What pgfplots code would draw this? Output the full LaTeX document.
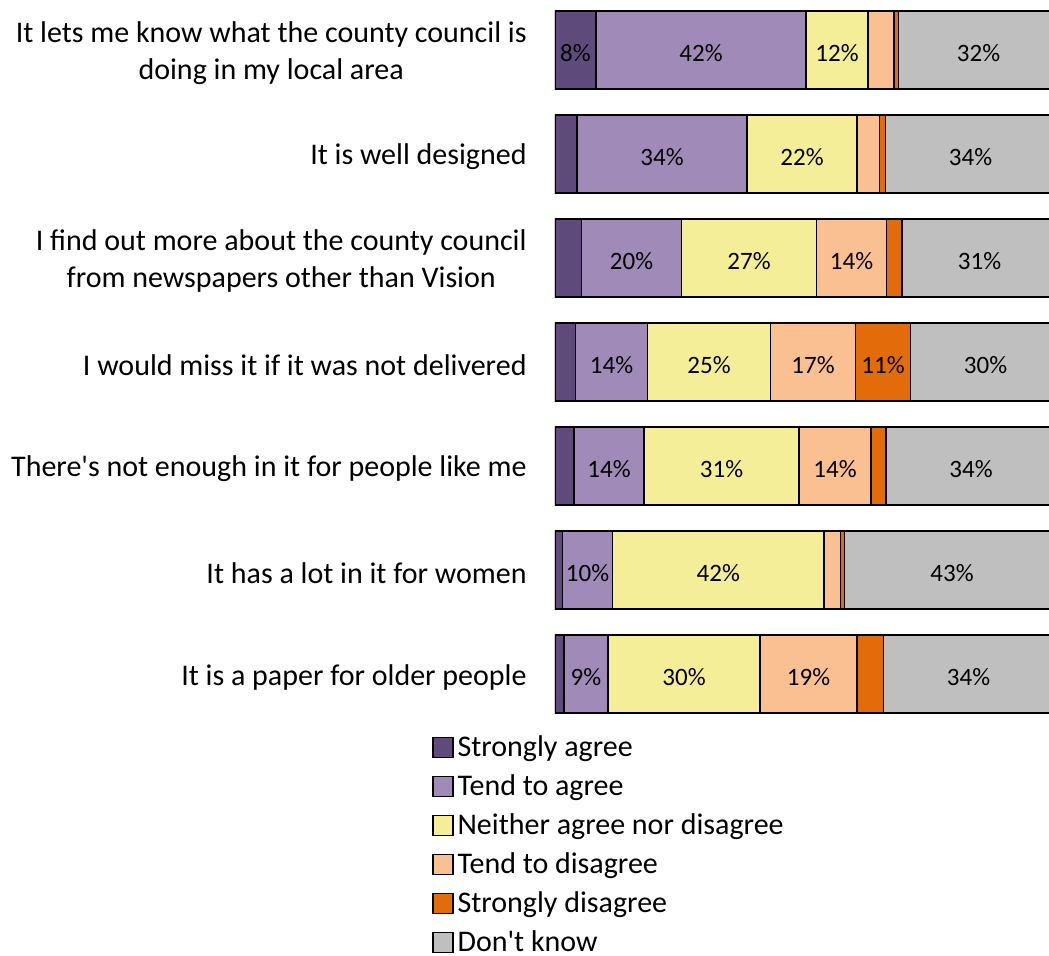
\documentclass[border=0pt]{standalone}
\usepackage{fontspec}
\setmainfont{Carlito}
\usepackage{pgfplots}
\usepackage{pgfplotstable}
\pgfplotsset{compat=1.18}
\definecolor{cSA}{RGB}{95,75,123}
\definecolor{cTA}{RGB}{160,138,184}
\definecolor{cN}{RGB}{244,238,152}
\definecolor{cTD}{RGB}{250,192,146}
\definecolor{cSD}{RGB}{227,108,10}
\definecolor{cDK}{RGB}{191,191,191}
% shares (%) per statement, top to bottom
\pgfplotstableread{
idx SA TA N TD SD DK
0 8.2 42 12.4 5.2 0.9 32
1 4.4 34 22 4.5 1.2 34
2 5.3 20 27 14 3.1 31
3 4.1 14.4 24.6 17 11 30
4 3.8 14 31 14.4 3 34
5 1.5 10 42.3 3.3 0.8 43
6 1.8 8.8 30.4 19.4 5.3 34
}\data
% data labels: centre of each labelled segment
\pgfplotstableread{
xc idx lab
4.1 0 8\%
29.2 0 42\%
56.4 0 12\%
84.7 0 32\%
21.4 1 34\%
49.4 1 22\%
83.1 1 34\%
15.3 2 20\%
38.8 2 27\%
59.3 2 14\%
84.9 2 31\%
11.3 3 14\%
30.8 3 25\%
51.6 3 17\%
65.6 3 11\%
86.1 3 30\%
10.8 4 14\%
33.3 4 31\%
56.0 4 14\%
83.2 4 34\%
6.5 5 10\%
32.65 5 42\%
79.4 5 43\%
6.2 6 9\%
25.8 6 30\%
50.7 6 19\%
82.7 6 34\%
}\labels
\pgfplotsset{
  seg/.style={fill=#1, draw=black, line width=0.75pt},
  common/.style={
    at={(277.5pt,114.5pt)}, anchor=south west,
    scale only axis, width=250pt, height=364pt,
    xmin=0, xmax=100, ymin=-0.5, ymax=6.5, y dir=reverse,
  }
}
\begin{document}
\begin{tikzpicture}
\useasboundingbox (0,0) rectangle (524.5pt,477.5pt);
\begin{axis}[
  common,
  xbar stacked, bar width=0.75,
  axis line style={draw=none}, xtick=\empty,
  ytick={0,...,6}, major tick length=0pt,
  yticklabels={{It lets me know what the county council is\\doing in my local area},
    {It is well designed},
    {I find out more about the county council\\from newspapers other than Vision},
    {I would miss it if it was not delivered},
    {There\textquotesingle s not enough in it for people like me},
    {It has a lot in it for women},
    {It is a paper for older people}},
  yticklabel style={align=center, inner sep=0pt, xshift=-14pt, yshift=-1.5pt, font=\fontsize{15}{18.5}\selectfont},
  legend style={draw=none, fill=none, at={(axis cs:-24.6,6.5)}, anchor=north west,
    font=\fontsize{15}{18}\selectfont, row sep=5.6pt, inner sep=0pt, yshift=-3.6pt,
    nodes={inner ysep=1pt}},
  legend cell align=left,
  legend image code/.code={\draw[#1, draw=black, line width=0.6pt] (0pt,-5pt) rectangle (10pt,5pt);},
]
\addplot[seg=cSA] table[x=SA, y=idx] {\data};
\addplot[seg=cTA] table[x=TA, y=idx] {\data};
\addplot[seg=cN] table[x=N, y=idx] {\data};
\addplot[seg=cTD] table[x=TD, y=idx] {\data};
\addplot[seg=cSD] table[x=SD, y=idx] {\data};
\addplot[seg=cDK] table[x=DK, y=idx] {\data};
\legend{Strongly agree, Tend to agree, Neither agree nor disagree, Tend to disagree, Strongly disagree, Don\textquotesingle t know}
\end{axis}
\begin{axis}[common, hide axis]
\addplot[only marks, mark=none, point meta=explicit symbolic,
  nodes near coords, nodes near coords align=center,
  every node near coord/.append style={font=\fontsize{12.5}{15}\selectfont, text=black, yshift=-1.5pt}]
  table[x=xc, y=idx, meta=lab] {\labels};
\end{axis}
\end{tikzpicture}
\end{document}
